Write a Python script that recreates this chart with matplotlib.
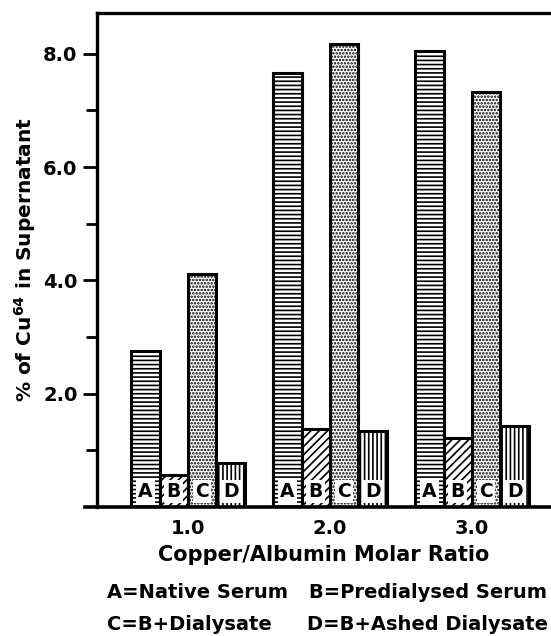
import matplotlib
matplotlib.use("Agg")
import matplotlib.pyplot as plt
import numpy as np
from matplotlib.lines import Line2D

ratios = [1.0, 2.0, 3.0]
series_labels = ["A", "B", "C", "D"]
native_serum = [2.76, 7.66, 8.05]
predialysed_serum = [0.56, 1.38, 1.22]
b_plus_dialysate = [4.11, 8.17, 7.33]
b_plus_ashed = [0.78, 1.34, 1.43]
hatches = ["----", "////", ".....", "||||"]
ytick_major = [2.0, 4.0, 6.0, 8.0]
ytick_minor = [1.0, 3.0, 5.0, 7.0]

plt.rcParams["hatch.linewidth"] = 1.2
plt.rcParams["font.family"] = ["DejaVu Sans"]
plt.rcParams["font.weight"] = "bold"

W, H = 551, 636
fig = plt.figure(figsize=(W / 100, H / 100), dpi=100)
L = 97 / W
B = (H - 507) / H
T = (H - 13) / H
ax = fig.add_axes([L, B, 1 - L, T - B])

series = [native_serum, predialysed_serum, b_plus_dialysate, b_plus_ashed]
w = 0.2
x = np.array(ratios)
for i, (vals, h, lab) in enumerate(zip(series, hatches, series_labels)):
    pos = x + (i - 1.5) * w
    ax.bar(pos, vals, width=w, facecolor="white", edgecolor="black",
           linewidth=2.2, hatch=h, zorder=2)
    for p in pos:
        ax.text(p, 0.27, lab, ha="center", va="center", fontsize=13.5,
                fontweight="bold", zorder=5,
                bbox=dict(boxstyle="square,pad=0.12", facecolor="white",
                          edgecolor="none"))

ax.set_xlim(0.359, 3.556)
ax.set_ylim(0, 8.72)

ax.spines["right"].set_visible(False)
ax.spines["bottom"].set_visible(False)
for s in ["left", "top"]:
    ax.spines[s].set_linewidth(2.4)
ax.add_line(Line2D([-12 / (W - 97), 1.0], [0, 0], transform=ax.transAxes,
                   color="black", linewidth=2.6, clip_on=False, zorder=6))

ax.set_yticks(ytick_major)
ax.set_yticklabels([f"{v:.1f}" for v in ytick_major], fontsize=14, fontweight="bold")
ax.set_yticks(ytick_minor, minor=True)
ax.tick_params(axis="y", which="major", direction="out", length=10, width=2, pad=4)
ax.tick_params(axis="y", which="minor", direction="out", length=8, width=2)

ax.set_xticks(ratios)
ax.set_xticklabels([f"{v:.1f}" for v in ratios], fontsize=14, fontweight="bold")
ax.tick_params(axis="x", which="both", length=0, pad=9)

ax.set_xlabel("Copper/Albumin Molar Ratio", fontsize=15, fontweight="bold", labelpad=5)
ax.set_ylabel("% of Cu$^{\\mathbf{64}}$ in Supernatant", fontsize=14.5,
              fontweight="bold", labelpad=4)

fs_leg = 14
fig.text(107 / W, 1 - 593 / H, "A=Native Serum", fontsize=fs_leg, fontweight="bold", va="center")
fig.text(309 / W, 1 - 593 / H, "B=Predialysed Serum", fontsize=fs_leg, fontweight="bold", va="center")
fig.text(107 / W, 1 - 625 / H, "C=B+Dialysate", fontsize=fs_leg, fontweight="bold", va="center")
fig.text(307 / W, 1 - 625 / H, "D=B+Ashed Dialysate", fontsize=fs_leg, fontweight="bold", va="center")

fig.savefig("out.png", dpi=100)
